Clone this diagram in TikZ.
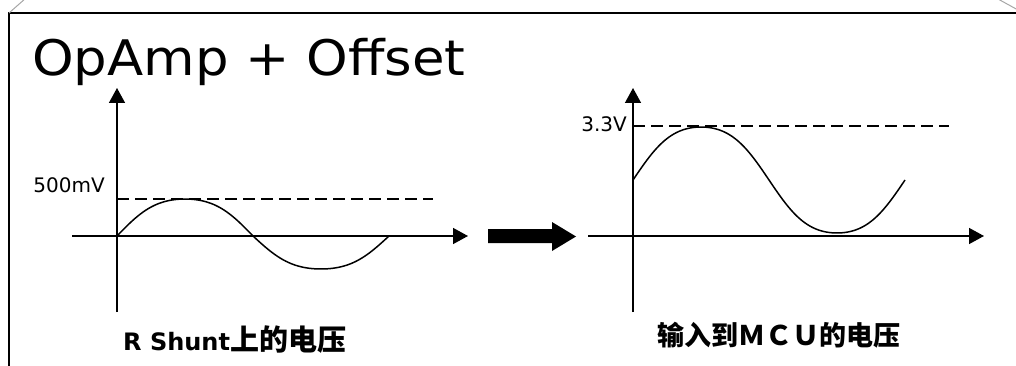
\documentclass[tikz,border=0pt]{standalone}
\usepackage{fontspec}
\setmainfont{DejaVu Sans}
\newfontfamily\cjk{Noto Sans CJK SC}
\usetikzlibrary{arrows.meta}
\tikzset{
  axis/.style={line width=1.5pt,-{Triangle[length=15pt,width=16pt]}},
  wave/.style={line width=1.5pt},
  level/.style={line width=1.5pt,dash pattern=on 12pt off 6pt},
  lbl/.style={inner sep=0pt,font=\fontsize{20}{24}\selectfont},
  captext/.style={inner sep=0pt,font=\bfseries\fontsize{24}{28}\selectfont},
}
\begin{document}
\begin{tikzpicture}[x=1pt,y=-1pt]
\useasboundingbox (0,0) rectangle (1016,366);
% frame
\draw[line width=2pt] (9,367) -- (9,13) -- (1017,13);
\draw[gray!70,line width=1pt] (9,13) -- (26,-2);
\draw[gray!70,line width=1pt] (998,-1) -- (1018,10);
% title
\node[inner sep=0pt,anchor=base west,font=\fontsize{49}{58}\selectfont] (title) at (32,76) {\scalebox{1.08}[1]{OpAmp + Offset}};
% left chart
\draw[axis] (117,312) -- (117,88);
\draw[axis] (72,236) -- (468,236);
\draw[level] (117,199) -- (433,199);
\node[lbl,anchor=base east] (l500) at (105,193) {500mV};
\draw[wave,domain=0:136,samples=80,smooth] plot ({117+\x},{236-37*(sin(\x/136*180)+0.05*sin(3*\x/136*180))/0.95});
\draw[wave,domain=0:136,samples=80,smooth] plot ({253+\x},{236+33*(sin(\x/136*180)+0.05*sin(3*\x/136*180))/0.95});
\node[captext,anchor=base west] (lcap) at (123,350) {R Shunt{\cjk\fontsize{29}{32}\selectfont 上的电压}};
% big arrow
\fill (488,229) -- (552,229) -- (552,222) -- (576,236.5) -- (552,251) -- (552,243) -- (488,243) -- cycle;
% right chart
\draw[axis] (633,312) -- (633,88);
\draw[axis] (588,236) -- (984,236);
\draw[level] (633,126) -- (949,126);
\node[lbl,anchor=base east] (l33) at (627,132) {3.3V};
\draw[wave,domain=0:272,samples=160,smooth] plot ({633+\x},{180-53*(sin(\x/272*360)+0.05*sin(3*\x/272*360))/0.95});
\node[inner sep=0pt,anchor=base west,font=\cjk\bfseries\fontsize{27}{30}\selectfont] (rcap) at (657,345) {输入到ＭＣＵ的电压};
\end{tikzpicture}
\end{document}
